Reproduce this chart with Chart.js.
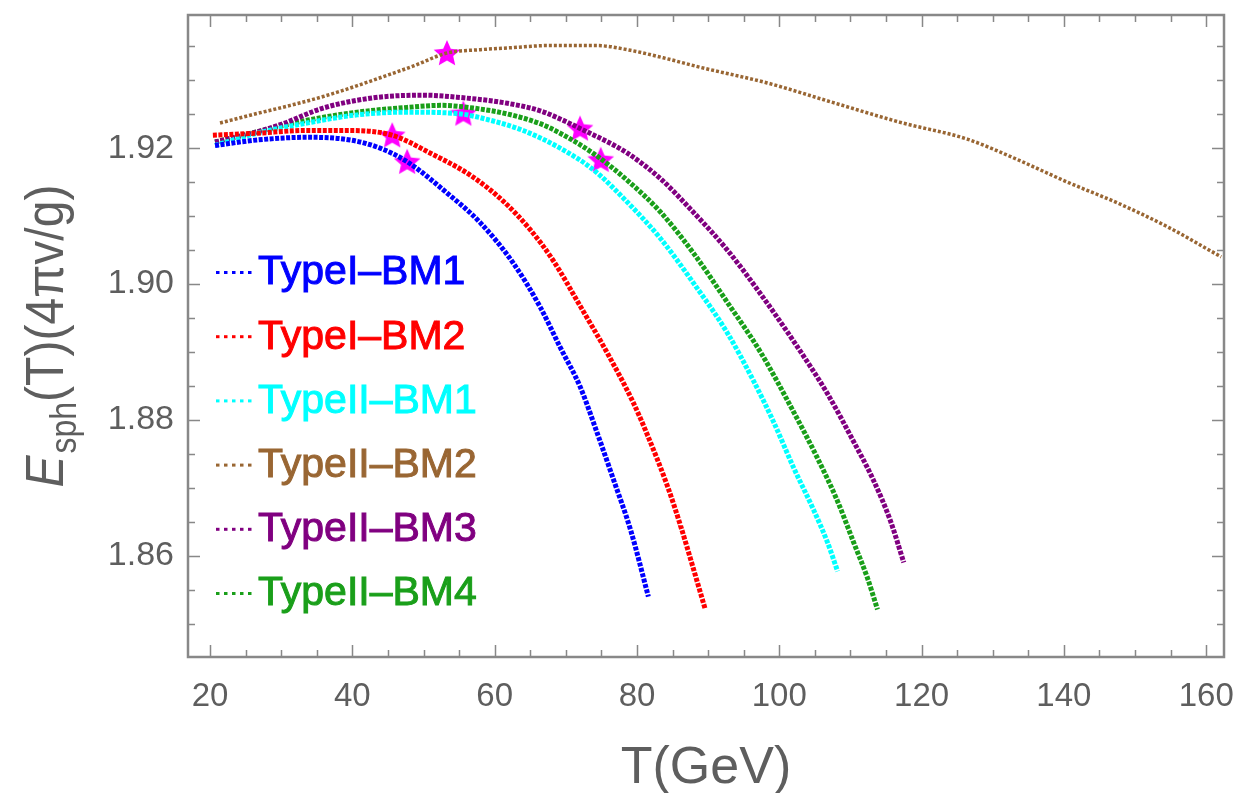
<!DOCTYPE html>
<html>
<head>
<meta charset="utf-8">
<script src="https://cdn.jsdelivr.net/npm/chart.js@4.4.1/dist/chart.umd.min.js"></script>
<style>
  html, body { margin: 0; padding: 0; background: #fff; }
  #wrap { width: 1239px; height: 793px; }
</style>
</head>
<body>
<div id="wrap"><canvas id="myChart"></canvas></div>
<script>
// T in GeV, E_sph(T) in units of 4*pi*v/g
const T_I_BM1 = [20.7, 26.6, 33.6, 39.7, 43.9, 47.7, 53.3, 58.0, 62.6, 66.4, 69.2, 72.0, 74.4, 76.7, 79.1, 81.6];
const E_I_BM1 = [1.9204, 1.9212, 1.9216, 1.9212, 1.9200, 1.9180, 1.9134, 1.9090, 1.9031, 1.8966, 1.8907, 1.8849, 1.8781, 1.8712, 1.8638, 1.8540];

const T_I_BM2 = [20.4, 26.6, 33.6, 39.7, 45.6, 50.9, 56.6, 61.2, 65.0, 68.2, 72.0, 75.8, 79.5, 81.5, 84.3, 86.1, 87.9, 89.6];
const E_I_BM2 = [1.9219, 1.9222, 1.9226, 1.9226, 1.9219, 1.9193, 1.9160, 1.9122, 1.9080, 1.9035, 1.8968, 1.8899, 1.8825, 1.8777, 1.8702, 1.8645, 1.8582, 1.8521];

const T_II_BM1 = [20.7, 26.6, 33.6, 40.7, 47.7, 54.7, 59.4, 64.0, 69.2, 73.9, 78.6, 83.3, 87.9, 92.7, 96.4, 99.2, 102.0, 104.8, 106.8, 108.2];
const E_II_BM1 = [1.9204, 1.9222, 1.9237, 1.9249, 1.9253, 1.9251, 1.9241, 1.9226, 1.9200, 1.9168, 1.9121, 1.9067, 1.9002, 1.8928, 1.8857, 1.8797, 1.8730, 1.8668, 1.8619, 1.8577];

const T_II_BM2 = [21.4, 26.6, 31.3, 35.9, 40.7, 44.0, 48.6, 53.3, 58.0, 62.6, 67.4, 74.4, 79.1, 83.7, 88.9, 98.3, 107.6, 117.0, 126.5, 133.5, 140.5, 147.6, 154.6, 162.1];
const E_II_BM2 = [1.9237, 1.9251, 1.9263, 1.9276, 1.9292, 1.9304, 1.9321, 1.9340, 1.9345, 1.9348, 1.9351, 1.9351, 1.9344, 1.9333, 1.9319, 1.9296, 1.9267, 1.9238, 1.9213, 1.9183, 1.9150, 1.9119, 1.9084, 1.9040];

const T_II_BM3 = [20.7, 26.6, 30.0, 35.9, 42.9, 50.0, 54.7, 61.8, 66.4, 69.2, 72.0, 78.6, 83.3, 87.9, 92.7, 97.4, 102.0, 106.8, 110.4, 113.2, 115.6, 117.5];
const E_II_BM3 = [1.9209, 1.9224, 1.9235, 1.9259, 1.9274, 1.9278, 1.9275, 1.9266, 1.9255, 1.9243, 1.9229, 1.9193, 1.9155, 1.9106, 1.9050, 1.8985, 1.8916, 1.8838, 1.8769, 1.8712, 1.8652, 1.8590];

const T_II_BM4 = [20.7, 26.6, 33.6, 40.7, 47.7, 52.4, 57.0, 61.9, 66.4, 69.2, 73.9, 78.6, 83.3, 87.9, 92.7, 97.4, 102.0, 105.4, 108.2, 110.4, 112.4, 113.8];
const E_II_BM4 = [1.9209, 1.9224, 1.9241, 1.9253, 1.9260, 1.9263, 1.9259, 1.9250, 1.9236, 1.9222, 1.9192, 1.9153, 1.9106, 1.9046, 1.8973, 1.8899, 1.8812, 1.8743, 1.8680, 1.8621, 1.8567, 1.8521];

// marked points (stars)
const starT = [45.6, 47.7, 53.3, 55.6, 72.0, 74.9];
const starE = [1.9219, 1.9180, 1.9340, 1.9251, 1.9229, 1.9183];

const seriesNames = ['TypeI\u2013BM1', 'TypeI\u2013BM2', 'TypeII\u2013BM1', 'TypeII\u2013BM2', 'TypeII\u2013BM3', 'TypeII\u2013BM4'];
const seriesColors = ['#0000ff', '#ff0000', '#00ffff', '#996633', '#800080', '#1a9f1a'];
const seriesT = [T_I_BM1, T_I_BM2, T_II_BM1, T_II_BM2, T_II_BM3, T_II_BM4];
const seriesE = [E_I_BM1, E_I_BM2, E_II_BM1, E_II_BM2, E_II_BM3, E_II_BM4];

const xTicks = [20, 40, 60, 80, 100, 120, 140, 160];
const yTicks = [1.86, 1.88, 1.90, 1.92];

const toPts = (ts, es) => ts.map((t, i) => ({ x: t, y: es[i] }));

// filled magenta star marker
const starImg = document.createElement('canvas');
starImg.width = 30; starImg.height = 30;
(function () {
  const c = starImg.getContext('2d');
  c.fillStyle = '#ff00ff';
  c.beginPath();
  for (let i = 0; i < 10; i++) {
    const r = i % 2 === 0 ? 14 : 6.5;
    const a = -Math.PI / 2 + i * Math.PI / 5;
    const px = 15 + r * Math.cos(a), py = 16 + r * Math.sin(a);
    if (i === 0) c.moveTo(px, py); else c.lineTo(px, py);
  }
  c.closePath();
  c.fill();
})();

const datasets = seriesNames.map((name, i) => ({
  label: name,
  data: toPts(seriesT[i], seriesE[i]),
  borderColor: seriesColors[i],
  borderWidth: i === 3 ? 3.5 : 5,
  borderDash: i === 3 ? [3, 2] : [4, 1.5],
  showLine: true,
  pointRadius: 0,
  cubicInterpolationMode: 'monotone'
}));
datasets.push({
  label: 'stars',
  data: toPts(starT, starE),
  pointStyle: starImg,
  pointRadius: 14,
  showLine: false
});

const frameTicks = {
  id: 'frameTicks',
  beforeDatasetsDraw(chart) {
    const { ctx, chartArea: a, scales: { x, y } } = chart;
    ctx.save();
    ctx.strokeStyle = '#888';
    ctx.lineWidth = 1.5;
    ctx.beginPath();
    for (let t = 20; t <= 160; t += 5) {
      const px = Math.round(x.getPixelForValue(t)) + 0.5;
      const len = t % 20 === 0 ? 12 : 7;
      ctx.moveTo(px, a.bottom); ctx.lineTo(px, a.bottom - len);
      ctx.moveTo(px, a.top); ctx.lineTo(px, a.top + len);
    }
    for (let k = 0; k < 20; k++) {
      const v = 1.845 + k * 0.005;
      if (v < y.min || v > y.max) continue;
      const py = Math.round(y.getPixelForValue(v)) + 0.5;
      const major = Math.abs((v - 1.86) / 0.02 - Math.round((v - 1.86) / 0.02)) < 1e-6;
      const len = major ? 12 : 7;
      ctx.moveTo(a.left, py); ctx.lineTo(a.left + len, py);
      ctx.moveTo(a.right, py); ctx.lineTo(a.right - len, py);
    }
    ctx.stroke();
    ctx.lineWidth = 2.5;
    ctx.strokeRect(a.left, a.top, a.right - a.left, a.bottom - a.top);
    ctx.restore();
  },
  afterDraw(chart) {
    const { ctx, chartArea: a } = chart;
    ctx.save();
    // legend inside the plot
    ctx.font = '41px "Liberation Sans", Arial, sans-serif';
    ctx.textBaseline = 'middle';
    ctx.lineWidth = 1;
    seriesNames.forEach((name, i) => {
      const cy = 272 + i * 64.2;
      ctx.fillStyle = seriesColors[i];
      ctx.strokeStyle = seriesColors[i];
      for (let k = 0; k < 5; k++) ctx.fillRect(216 + k * 8, cy - 1, 3.5, 3);
      ctx.fillText(name, 258, cy + 1);
      ctx.strokeText(name, 258, cy + 1);
    });
    // x axis title
    ctx.fillStyle = '#5e5e5e';
    ctx.textAlign = 'center';
    ctx.textBaseline = 'alphabetic';
    ctx.font = '52px "Liberation Sans", Arial, sans-serif';
    ctx.fillText('T(GeV)', (a.left + a.right) / 2, 783);
    // y axis title, rotated, with subscript
    ctx.translate(63, (a.top + a.bottom) / 2);
    ctx.rotate(-Math.PI / 2);
    ctx.scale(0.89, 1);
    ctx.textAlign = 'left';
    const fMain = '54px "Liberation Sans", Arial, sans-serif';
    const fIt = 'italic 54px "Liberation Sans", Arial, sans-serif';
    const fSub = '36px "Liberation Sans", Arial, sans-serif';
    const parts = [['E', fIt, 0], ['sph', fSub, 13], ['(T)(4\u03C0v/g)', fMain, 0]];
    let total = 0;
    parts.forEach(p => { ctx.font = p[1]; total += ctx.measureText(p[0]).width + (p[0] === 'E' ? 2 : 0); });
    let cx = -total / 2;
    parts.forEach(p => {
      ctx.font = p[1];
      ctx.fillText(p[0], cx, p[2]);
      cx += ctx.measureText(p[0]).width + (p[0] === 'E' ? 2 : 0);
    });
    ctx.restore();
  }
};

new Chart(document.getElementById('myChart'), {
  type: 'scatter',
  data: { datasets },
  options: {
    responsive: true,
    maintainAspectRatio: false,
    animation: false,
    layout: { padding: { left: 0, right: 15, top: 15, bottom: 0 } },
    plugins: { legend: { display: false }, tooltip: { enabled: false } },
    scales: {
      x: {
        type: 'linear',
        min: 16.9,
        max: 162.5,
        afterBuildTicks: s => { s.ticks = xTicks.map(v => ({ value: v })); },
        afterFit: s => { s.height = 136; s.paddingLeft = 0; s.paddingRight = 0; },
        grid: { display: false, drawTicks: false },
        border: { display: false },
        ticks: { color: '#5e5e5e', padding: 20, maxRotation: 0, font: { size: 33, family: '"Liberation Sans", Arial, sans-serif' } }
      },
      y: {
        type: 'linear',
        min: 1.8451,
        max: 1.9396,
        afterBuildTicks: s => { s.ticks = yTicks.map(v => ({ value: v })); },
        afterFit: s => { s.width = 188; s.paddingTop = 0; s.paddingBottom = 0; },
        grid: { display: false, drawTicks: false },
        border: { display: false },
        ticks: {
          color: '#5e5e5e', padding: 14,
          font: { size: 34, family: '"Liberation Sans", Arial, sans-serif' },
          callback: v => v.toFixed(2)
        }
      }
    }
  },
  plugins: [frameTicks]
});
</script>
</body>
</html>
